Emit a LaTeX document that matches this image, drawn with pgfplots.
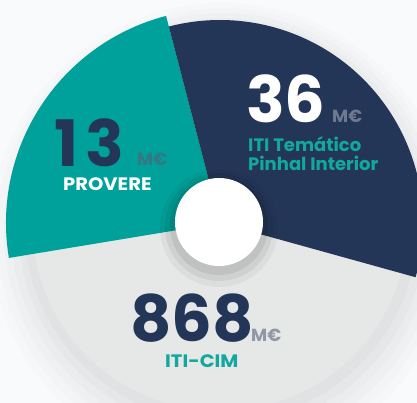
\documentclass[border=0pt]{standalone}
\usepackage{pgfplots}
\pgfplotsset{compat=1.18}
\usepackage{graphicx}
\usepackage{fontspec}
\setmainfont{Poppins}
\definecolor{tealc}{HTML}{00A19A}
\definecolor{navyc}{HTML}{243658}
\definecolor{grayc}{HTML}{E6E7E7}
\definecolor{bgc}{HTML}{F9FAFB}
\definecolor{mgray}{HTML}{9198A5}
\definecolor{mnavy}{HTML}{6E7890}
\definecolor{mteal}{HTML}{357784}
\definecolor{lteal}{HTML}{12A89E}
% sector: colour, start angle, end angle, radius (data units = pt)
\newcommand\sector[4]{\fill[#1] (axis cs:220,180) -- ++(#2:#4pt) arc[start angle=#2,end angle=#3,radius=#4pt] -- cycle;}
\newcommand\bignum[1]{{\fontsize{64}{64}\selectfont\bfseries #1}}
\newcommand\munit[1]{{\fontsize{17.5}{17.5}\selectfont\bfseries #1}}
\newcommand\lab[1]{{\fontsize{18}{18}\selectfont\bfseries #1}}
\begin{document}
\begin{tikzpicture}
\useasboundingbox (0,0) rectangle (417pt,403pt);
\begin{axis}[at={(0pt,0pt)}, anchor=south west, x=1pt, y=1pt,
  xmin=0, xmax=417, ymin=0, ymax=403, hide axis, clip=true]
\fill[bgc] (axis cs:0,0) rectangle (axis cs:417,403);
% soft shadow around the pie
\fill[black, opacity=0.010] (axis cs:222,168) circle[radius=232pt];
\fill[black, opacity=0.012] (axis cs:222,170) circle[radius=225pt];
\fill[black, opacity=0.014] (axis cs:222,172) circle[radius=218pt];
\fill[black, opacity=0.016] (axis cs:222,174) circle[radius=211pt];
\fill[black, opacity=0.018] (axis cs:222,176) circle[radius=204pt];
\fill[black, opacity=0.020] (axis cs:221,178) circle[radius=197pt];
% sectors (ITI-CIM 868, PROVERE 13, ITI Temático 36)
\sector{grayc}{189.4}{345}{188}
\sector{tealc}{104.6}{189.4}{214}
\sector{navyc}{-15.5}{104.6}{203}
% hole shadow and hole
\fill[black, opacity=0.04] (axis cs:219,175) circle[radius=59pt];
\fill[black, opacity=0.06] (axis cs:219,176) circle[radius=54pt];
\fill[black, opacity=0.07] (axis cs:219,177) circle[radius=49pt];
\fill[white] (axis cs:219,181) circle[radius=44pt];
% labels
\node[anchor=base west, inner sep=0, text=navyc] at (axis cs:54,236) {\bignum{1\kern7pt3}};
\node[anchor=base west, inner sep=0, text=mteal] at (axis cs:137,237) {\munit{M€}};
\node[anchor=base west, inner sep=0, text=white] at (axis cs:63,212) {\scalebox{1.085}[1]{\lab{PROVERE}}};
\node[anchor=base west, inner sep=0, text=white] at (axis cs:246,280) {\bignum{36}};
\node[anchor=base west, inner sep=0, text=mnavy] at (axis cs:332,280) {\munit{M€}};
\node[anchor=base west, inner sep=0, text=lteal] at (axis cs:248,251) {\lab{ITI Temático}};
\node[anchor=base west, inner sep=0, text=lteal] at (axis cs:248,232) {\lab{Pinhal Interior}};
\node[anchor=base west, inner sep=0, text=navyc] at (axis cs:130,61) {\bignum{868}};
\node[anchor=base west, inner sep=0, text=mgray] at (axis cs:251,61) {\munit{M€}};
\node[anchor=base west, inner sep=0, text=lteal] at (axis cs:165,35) {\scalebox{1.09}[1]{\lab{ITI-CIM}}};
\end{axis}
\end{tikzpicture}
\end{document}
